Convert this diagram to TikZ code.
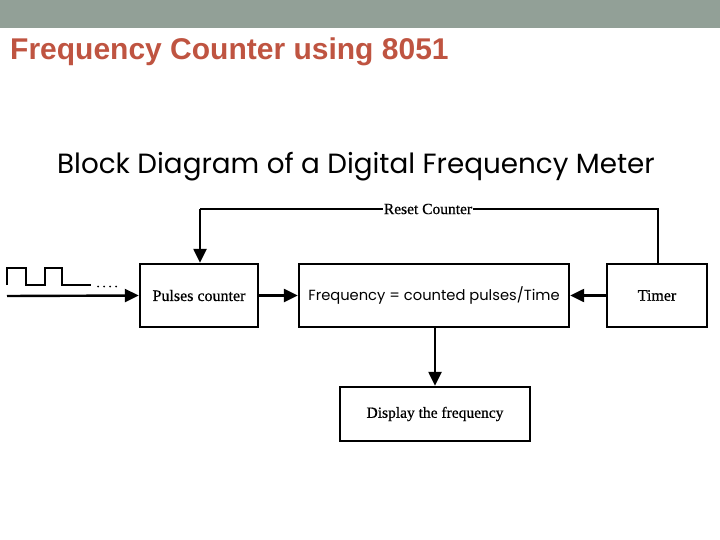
\documentclass[tikz,border=0pt]{standalone}
\usepackage{fontspec}
\setmainfont[FakeBold=0.6]{Liberation Serif}
\newfontfamily\arialf{Liberation Sans}
\newfontfamily\geof{Poppins}
\usetikzlibrary{arrows.meta}
\definecolor{barcol}{HTML}{92A097}
\definecolor{titlecol}{HTML}{BF5441}
\tikzset{
  blk/.style={draw, line width=2.4pt, minimum height=63pt, inner sep=0pt, font=\fontsize{16}{18}\selectfont},
  conn/.style={line width=2.4pt, -{Triangle[length=14pt,width=13pt]}},
}
\begin{document}
\begin{tikzpicture}[x=1pt,y=-1pt]
\useasboundingbox (0,0) rectangle (720,540);
\fill[barcol] (0,0) rectangle (720,28);
\node[anchor=base west, inner sep=0pt, text=titlecol, font=\arialf\bfseries\fontsize{30}{34}\selectfont] (title) at (10,60) {Frequency Counter using 8051};
\node[anchor=base west, inner sep=0pt, font=\geof\fontsize{27.8}{32}\selectfont] (sub) at (57,174) {Block Diagram of a Digital Frequency Meter};

\node[blk, minimum width=118pt] (pc) at (199,295.5) {Pulses counter};
\node[blk, minimum width=270pt, font=\geof\fontsize{14.7}{17}\selectfont] (fq) at (434,295.5) {Frequency = counted pulses/Time};
\node[blk, minimum width=100pt] (tm) at (657,295.5) {Timer};
\node[blk, minimum width=190pt, minimum height=54pt, font=\fontsize{15.5}{18}\selectfont] (dp) at (435,414) {Display the frequency};

\coordinate (in) at (7,296);
\draw[conn] (in) -- (pc.west);
\draw[conn] (pc.east) -- (fq.west);
\draw[conn] (tm.west) -- (fq.east);
\draw[conn] (fq.south -| dp.north) -- (dp.north);

\coordinate (r1) at (658,209);
\coordinate (r2) at (200,209);
\draw[line width=1.6pt] (tm.north -| r1) -- (r1) -- (r2);
\draw[conn] (r2) -- (pc.north -| r2);
\node[fill=white, inner sep=1pt, font=\fontsize{15.5}{18}\selectfont] (rc) at (428,209) {Reset Counter};

% square wave
\draw[line width=1.8pt] (7,285) -- (7,268) -- (26,268) -- (26,285) -- (45,285) -- (45,268) -- (62,268) -- (62,285) -- (91,285);
\foreach \x in {98,104,110,116} \fill (\x,286.5) circle (1pt);
\end{tikzpicture}
\end{document}
